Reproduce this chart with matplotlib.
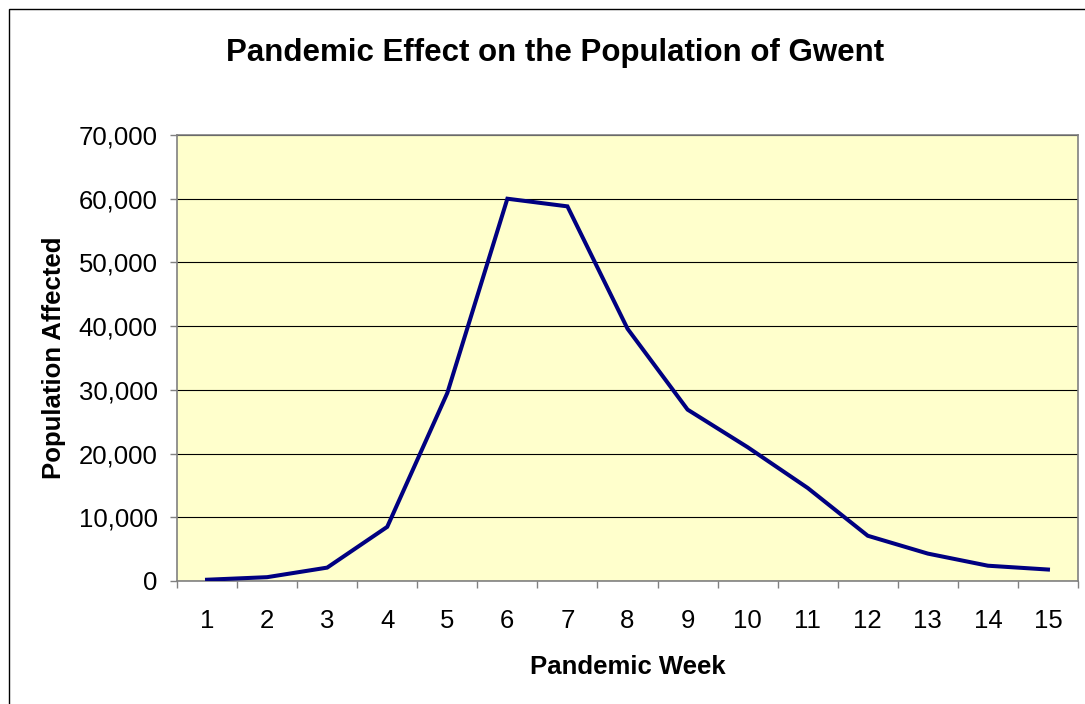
import numpy as np
import matplotlib.pyplot as plt
from matplotlib.patches import Rectangle
from matplotlib.ticker import FuncFormatter, FixedLocator

# Data
weeks = list(range(1, 16))
affected = [200, 600, 2100, 8500, 29500, 60000, 58800, 39600, 26900,
            21000, 14600, 7100, 4300, 2400, 1800]

plt.rcParams['font.family'] = ['Liberation Sans', 'DejaVu Sans']

fig = plt.figure(figsize=(10.85, 7.04), dpi=100)

# Outer chart border (only left/top visible in the reference)
fig.patches.append(Rectangle((9 / 1085, -0.1), 1.2, 0.1 + (704 - 9) / 704,
                             transform=fig.transFigure, fill=False,
                             edgecolor='black', linewidth=1.0))

ax = fig.add_axes([177 / 1085, 123 / 704, 901 / 1085, 446 / 704])
ax.set_facecolor('#FFFFCC')

ax.plot(weeks, affected, color='#000080', linewidth=2.9, zorder=3,
        solid_joinstyle='miter')

ax.set_xlim(0.5, 15.5)
ax.set_ylim(0, 70000)
ax.set_yticks(np.arange(0, 70001, 10000))
ax.yaxis.set_major_formatter(FuncFormatter(lambda v, p: f"{int(v):,}"))
ax.set_xticks(weeks)
ax.xaxis.set_minor_locator(FixedLocator(np.arange(0.5, 15.6, 1)))

ax.grid(axis='y', color='black', linewidth=0.8)
ax.set_axisbelow(True)

for side in ['left', 'right', 'top', 'bottom']:
    ax.spines[side].set_color('#808080')
    ax.spines[side].set_linewidth(1.2)

ax.tick_params(axis='y', which='major', length=5, width=1, color='#808080',
               labelsize=18.5, pad=9)
ax.tick_params(axis='x', which='major', length=0, labelsize=18.5, pad=20)
ax.tick_params(axis='x', which='minor', length=5, width=1, color='#808080')

ax.set_xlabel('Pandemic Week', fontsize=18.5, fontweight='bold', labelpad=16)
ax.set_ylabel('Population Affected', fontsize=18.5, fontweight='bold', labelpad=9)

fig.text(555 / 1085, 1 - 53 / 704, 'Pandemic Effect on the Population of Gwent',
         ha='center', va='center', fontsize=22.5, fontweight='bold')

fig.savefig('out.png', dpi=100)
